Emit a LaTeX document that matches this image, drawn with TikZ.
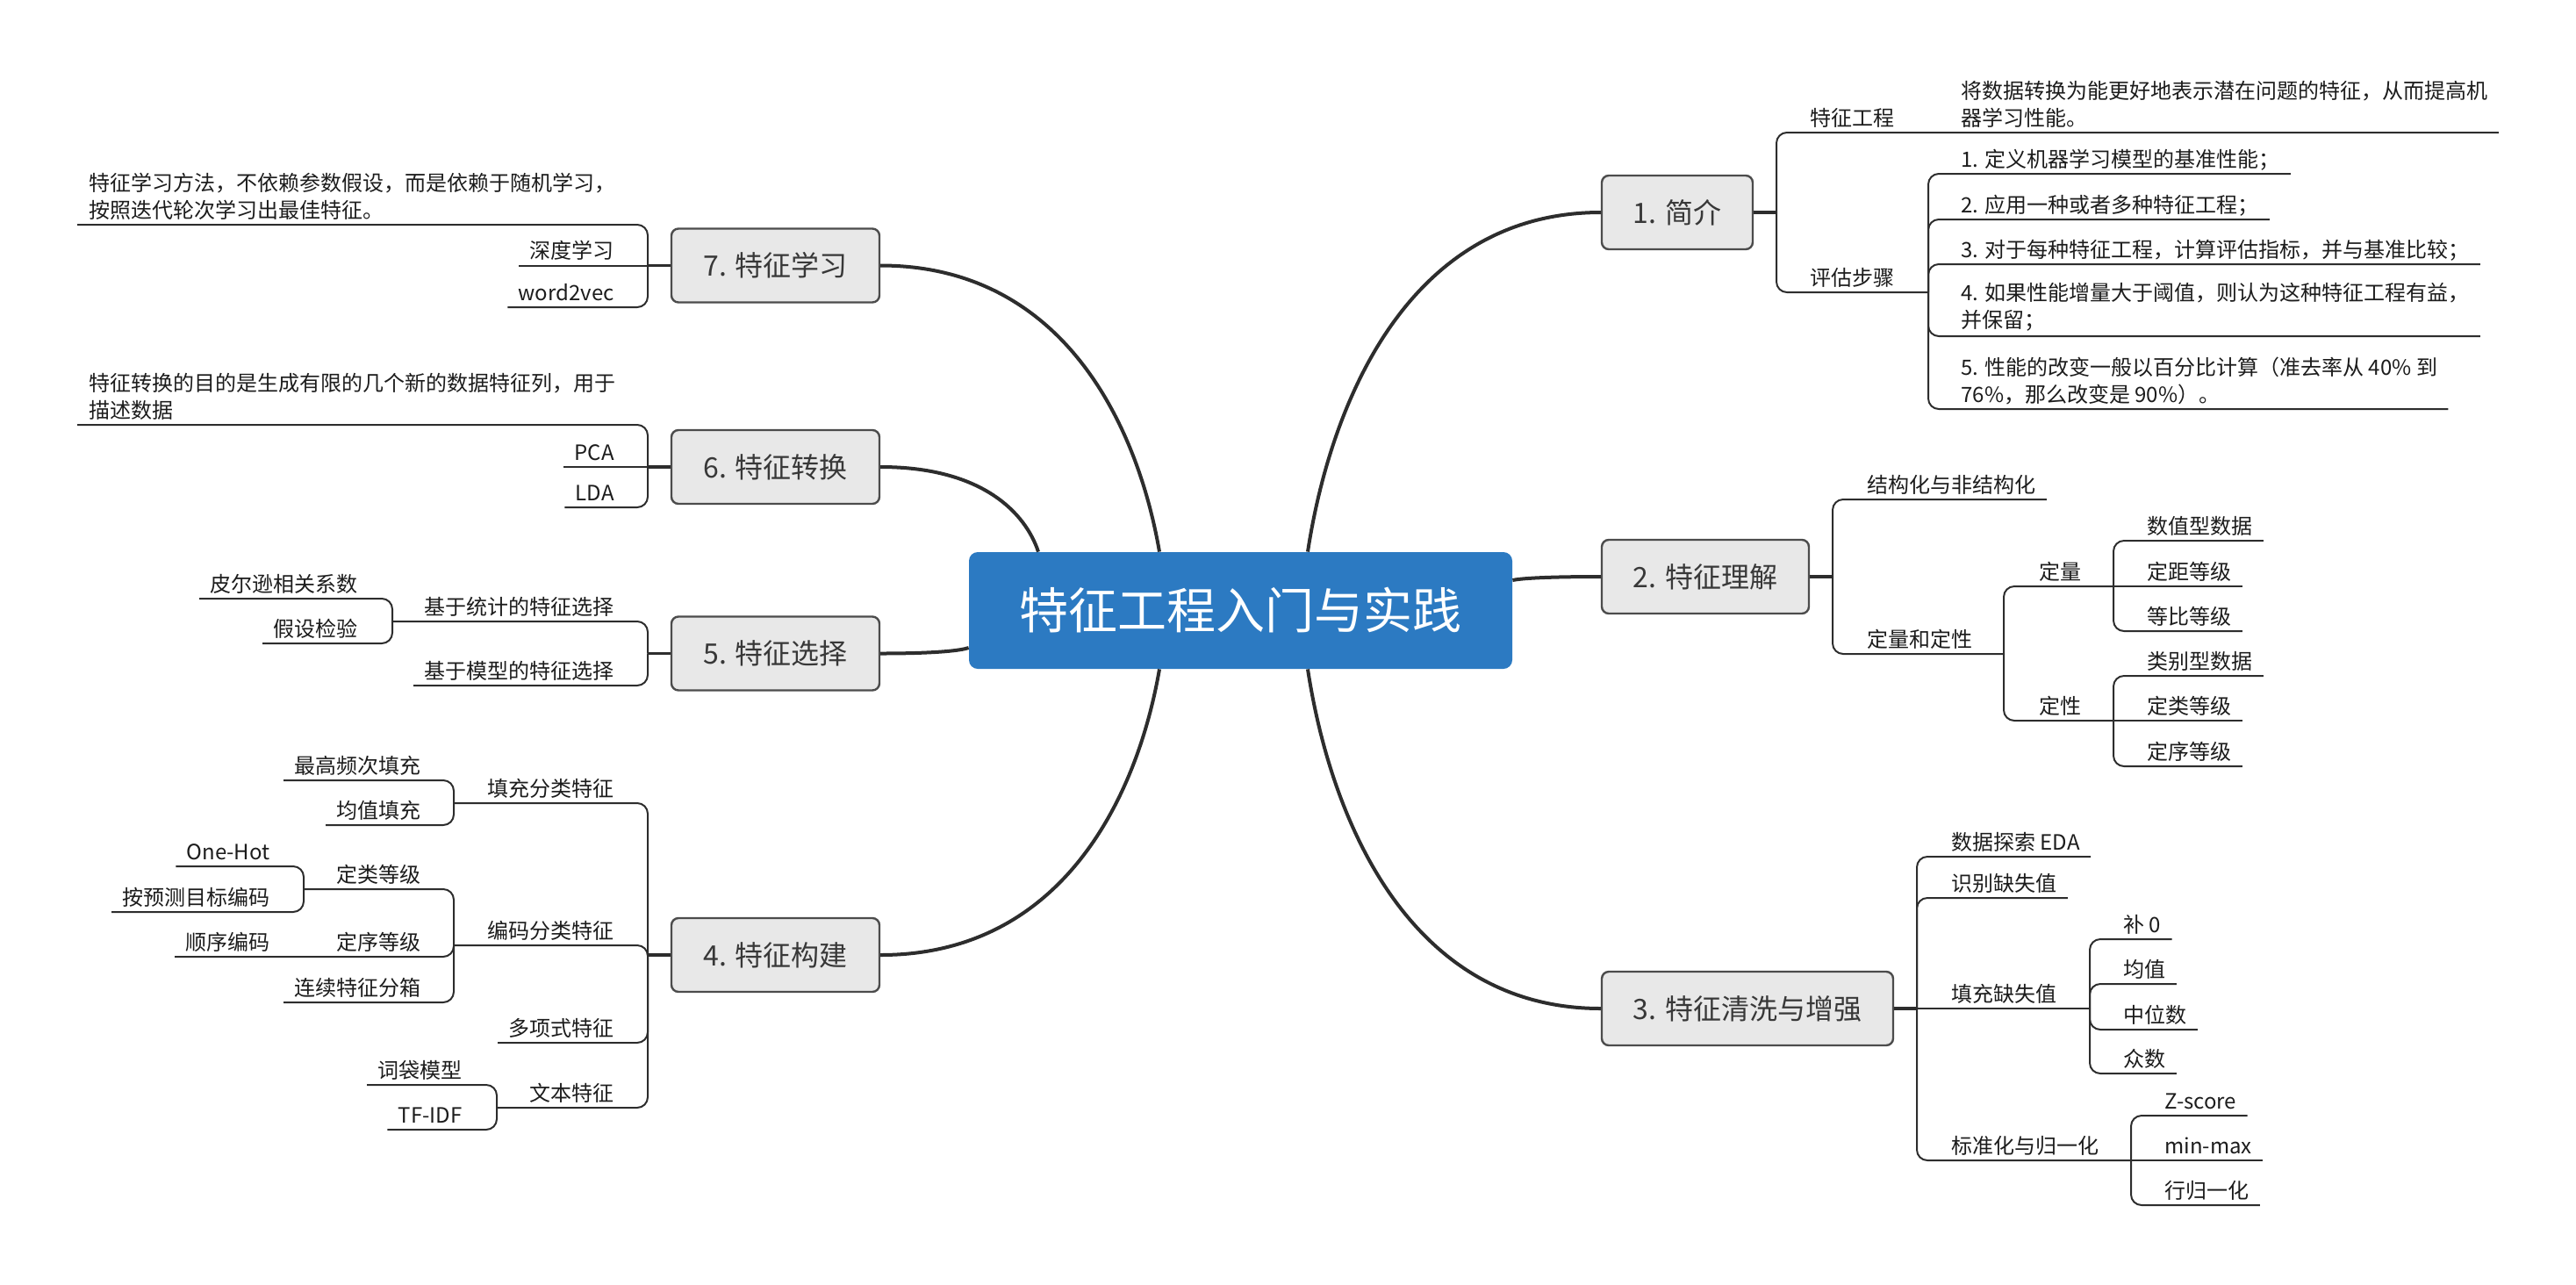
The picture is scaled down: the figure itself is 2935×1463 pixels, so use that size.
\documentclass[tikz,border=0pt]{standalone}
\usepackage{fontspec}
\setmainfont{Noto Sans CJK SC}
\usetikzlibrary{calc}
\definecolor{hubblue}{RGB}{44,122,194}
\definecolor{topicfill}{RGB}{232,232,232}
\definecolor{linecol}{RGB}{45,45,45}
\definecolor{txtcol}{RGB}{28,28,28}
\tikzset{
 lbl/.style={inner sep=0pt, text=txtcol, font=\fontsize{12pt}{15.5pt}\selectfont},
 rl/.style={lbl, anchor=base west},
 ll/.style={lbl, anchor=base east},
 rdesc/.style={lbl, align=left, anchor=south west},
 br/.style={draw=linecol, line width=1pt, rounded corners=6pt},
 stem/.style={draw=linecol, line width=1.6pt},
 bigcurve/.style={draw=linecol, line width=2pt},
 topic/.style={draw=black!70, line width=1.2pt, fill=topicfill, rounded corners=4pt, minimum height=42pt, inner sep=0pt, text=black!78, font=\fontsize{16pt}{19pt}\selectfont},
 hub/.style={fill=hubblue, rounded corners=5pt, minimum width=309.5pt, minimum height=66.5pt, inner sep=0pt, text=white, font=\fontsize{28pt}{32pt}\selectfont},
}
\newcommand\hubcurve[2]{\draw[bigcurve] (#1) .. controls ($(#1)!0.45!(#1|-#2) + 0.08*(#2) - 0.08*(#1|-#2)$) and ($(#1|-#2)!0.35!(#2)$) .. (#2);}
\newcommand\rleaf[2]{\draw[br] (#1) |- ($(#2.base east)+(12,8)$);}
\newcommand\rstraight[2]{\draw[br] (#1) -- ($(#2.base east)+(12,8)$);}
\newcommand\lleaf[2]{\draw[br] (#1) |- ($(#2.base west)+(-12,8)$);}
\newcommand\lstraight[2]{\draw[br] (#1) -- ($(#2.base west)+(-12,8)$);}
\begin{document}
\begin{tikzpicture}[x=0.5pt,y=-0.5pt]
\useasboundingbox (0,0) rectangle (2935,1463);

% hub and topics
\node[hub] (hub) at (1413.5,695.5) {特征工程入门与实践};
\node[topic, minimum width=86pt] (t1) at (1911,242) {1. 简介};
\node[topic, minimum width=118pt] (t2) at (1943,657) {2. 特征理解};
\node[topic, minimum width=166pt] (t3) at (1991,1149) {3. 特征清洗与增强};
\node[topic, minimum width=118.5pt] (t7) at (883.5,302.5) {7. 特征学习};
\node[topic, minimum width=118.5pt] (t6) at (883.5,532) {6. 特征转换};
\node[topic, minimum width=118.5pt] (t5) at (883.5,744.5) {5. 特征选择};
\node[topic, minimum width=118.5pt] (t4) at (883.5,1088) {4. 特征构建};

\coordinate (h1) at ($(hub.north)+(76.5,0)$);
\coordinate (h7) at ($(hub.north)+(-92.5,0)$);
\coordinate (h6) at ($(hub.north)+(-230.5,0)$);
\coordinate (h3) at ($(hub.south)+(76.5,0)$);
\coordinate (h4) at ($(hub.south)+(-92.5,0)$);
\coordinate (h2) at ($(hub.east)+(0,-34.5)$);
\coordinate (h5) at ($(hub.west)+(0,42.5)$);
\hubcurve{h1}{t1.west}
\hubcurve{h7}{t7.east}
\hubcurve{h6}{t6.east}
\hubcurve{h3}{t3.west}
\hubcurve{h4}{t4.east}
\hubcurve{h2}{t2.west}
\hubcurve{h5}{t5.east}

% ---------- branch 1
\coordinate (b1) at (2024,242);
\draw[stem] (t1.east) -- (b1);
\node[rl] (n1a) at (2062,143) {特征工程};
\node[rdesc] (n1a1) at (2234,146) {将数据转换为能更好地表示潜在问题的特征，从而提高机\\器学习性能。};
\draw[br] (b1) |- ($(n1a.base east)+(12,8)$) -- ($(n1a1.south east)+(12,5)$);
\node[rl] (n1b) at (2062,325) {评估步骤};
\coordinate (b1b) at (2197,333);
\draw[br] (b1) |- (b1b);
\node[rl] (e1) at (2234,190) {1. 定义机器学习模型的基准性能；};
\node[rl] (e2) at (2234,242) {2. 应用一种或者多种特征工程；};
\node[rl] (e3) at (2234,293) {3. 对于每种特征工程，计算评估指标，并与基准比较；};
\node[rdesc] (e4) at (2234,378) {4. 如果性能增量大于阈值，则认为这种特征工程有益，\\并保留；};
\node[rdesc] (e5) at (2234,461) {5. 性能的改变一般以百分比计算（准去率从 40\% 到\\76\%，那么改变是 90\%）。};
\rleaf{b1b}{e1}
\rleaf{b1b}{e2}
\rleaf{b1b}{e3}
\draw[br] (b1b) |- ($(e4.south east)+(12,5)$);
\draw[br] (b1b) |- ($(e5.south east)+(12,5)$);

% ---------- branch 2
\coordinate (b2) at (2088,657);
\draw[stem] (t2.east) -- (b2);
\node[rl] (s1) at (2127,561) {结构化与非结构化};
\rleaf{b2}{s1}
\node[rl] (s2) at (2127,737) {定量和定性};
\coordinate (b2b) at (2283,745);
\draw[br] (b2) |- (b2b);
\node[rl] (q1) at (2323,660) {定量};
\coordinate (b2c) at (2408,668);
\draw[br] (b2b) |- (b2c);
\node[rl] (q1a) at (2446,608) {数值型数据};
\node[rl] (q1b) at (2446,660) {定距等级};
\node[rl] (q1c) at (2446,711) {等比等级};
\rleaf{b2c}{q1a}
\rstraight{b2c}{q1b}
\rleaf{b2c}{q1c}
\node[rl] (q2) at (2323,813) {定性};
\coordinate (b2d) at (2408,821);
\draw[br] (b2b) |- (b2d);
\node[rl] (q2a) at (2446,762) {类别型数据};
\node[rl] (q2b) at (2446,813) {定类等级};
\node[rl] (q2c) at (2446,865) {定序等级};
\rleaf{b2d}{q2a}
\rstraight{b2d}{q2b}
\rleaf{b2d}{q2c}

% ---------- branch 3
\coordinate (b3) at (2184,1149);
\draw[stem] (t3.east) -- (b3);
\node[rl] (c1) at (2223,968) {数据探索 EDA};
\node[rl] (c2) at (2223,1015) {识别缺失值};
\rleaf{b3}{c1}
\rleaf{b3}{c2}
\node[rl] (c3) at (2223,1141) {填充缺失值};
\coordinate (b3c) at (2381,1149);
\draw[br] (b3) -- (b3c);
\node[rl] (c3a) at (2419,1062) {补 0};
\node[rl] (c3b) at (2419,1113) {均值};
\node[rl] (c3c) at (2419,1165) {中位数};
\node[rl] (c3d) at (2419,1215) {众数};
\rleaf{b3c}{c3a}
\rleaf{b3c}{c3b}
\rleaf{b3c}{c3c}
\rleaf{b3c}{c3d}
\node[rl] (c4) at (2223,1314) {标准化与归一化};
\coordinate (b3d) at (2428,1322);
\draw[br] (b3) |- (b3d);
\node[rl] (c4a) at (2466,1263) {Z-score};
\node[rl] (c4b) at (2466,1314) {min-max};
\node[rl] (c4c) at (2466,1365) {行归一化};
\rleaf{b3d}{c4a}
\rstraight{b3d}{c4b}
\rleaf{b3d}{c4c}

% ---------- branch 7
\coordinate (b7) at (738,302.5);
\draw[stem] (t7.west) -- (b7);
\node[rdesc] (d7) at (101,251) {特征学习方法，不依赖参数假设，而是依赖于随机学习，\\按照迭代轮次学习出最佳特征。};
\draw[br] (b7) |- ($(d7.south west)+(-13,5)$);
\node[ll] (f1) at (700,294.5) {深度学习};
\node[ll] (f2) at (700,342) {word2vec};
\lstraight{b7}{f1}
\lleaf{b7}{f2}

% ---------- branch 6
\coordinate (b6) at (738,532);
\draw[stem] (t6.west) -- (b6);
\node[rdesc] (d6) at (101,479) {特征转换的目的是生成有限的几个新的数据特征列，用于\\描述数据};
\draw[br] (b6) |- ($(d6.south west)+(-13,5)$);
\node[ll] (g1) at (700,524) {PCA};
\node[ll] (g2) at (700,570) {LDA};
\lstraight{b6}{g1}
\lleaf{b6}{g2}

% ---------- branch 5
\coordinate (b5) at (738,744.5);
\draw[stem] (t5.west) -- (b5);
\node[ll] (p1) at (700,700) {基于统计的特征选择};
\coordinate (b5b) at (447,708);
\draw[br] (b5) |- (b5b);
\node[ll] (p1a) at (408,674) {皮尔逊相关系数};
\node[ll] (p1b) at (408,725) {假设检验};
\lleaf{b5b}{p1a}
\lleaf{b5b}{p1b}
\node[ll] (p2) at (700,773) {基于模型的特征选择};
\lleaf{b5}{p2}

% ---------- branch 4
\coordinate (b4) at (738,1088);
\draw[stem] (t4.west) -- (b4);
\node[ll] (r1) at (700,907) {填充分类特征};
\coordinate (b4a) at (517,915);
\draw[br] (b4) |- (b4a);
\node[ll] (r1a) at (480,881) {最高频次填充};
\node[ll] (r1b) at (480,932) {均值填充};
\lleaf{b4a}{r1a}
\lleaf{b4a}{r1b}
\node[ll] (r2) at (700,1069) {编码分类特征};
\coordinate (b4b) at (517,1077);
\draw[br] (b4) |- (b4b);
\node[ll] (r2a) at (480,1005) {定类等级};
\coordinate (b4c) at (346,1013);
\draw[br] (b4b) |- (b4c);
\node[ll] (r2a1) at (308,979) {One-Hot};
\node[ll] (r2a2) at (308,1031) {按预测目标编码};
\lleaf{b4c}{r2a1}
\lleaf{b4c}{r2a2}
\node[ll] (r2b) at (480,1082) {定序等级};
\coordinate (b4d) at (346,1090);
\node[ll] (r2b1) at (308,1082) {顺序编码};
\draw[br] (b4b) |- (b4d) -- ($(r2b1.base west)+(-12,8)$);
\node[ll] (r2c) at (480,1134) {连续特征分箱};
\lleaf{b4b}{r2c}
\node[ll] (r3) at (700,1180) {多项式特征};
\lleaf{b4}{r3}
\node[ll] (r4) at (700,1254) {文本特征};
\coordinate (b4e) at (566,1262);
\draw[br] (b4) |- (b4e);
\node[ll] (r4a) at (527,1228) {词袋模型};
\node[ll] (r4b) at (527,1279) {TF-IDF};
\lleaf{b4e}{r4a}
\lleaf{b4e}{r4b}
\end{tikzpicture}
\end{document}
